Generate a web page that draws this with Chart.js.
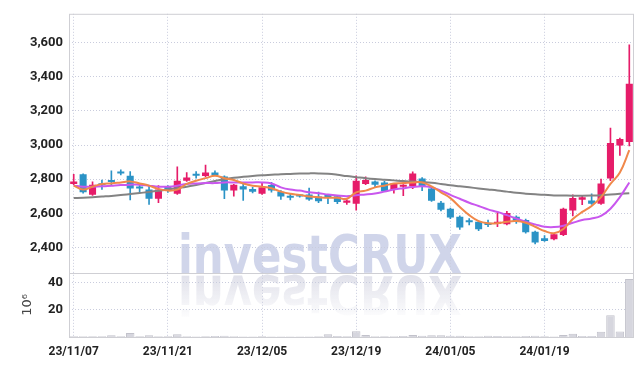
<!DOCTYPE html>
<html>
<head>
<meta charset="utf-8">
<script src="https://cdn.jsdelivr.net/npm/chart.js@4.4.1/dist/chart.umd.min.js"></script>
<style>
html, body { margin: 0; padding: 0; background: #fff; }
#wrap { width: 643px; height: 366px; }
</style>
</head>
<body>
<div id="wrap"><canvas id="stockChart"></canvas></div>
<script>
// trading days, 23/11/07 .. 24/02/01
var dates = ['23/11/07','23/11/08','23/11/09','23/11/10','23/11/13','23/11/14','23/11/15','23/11/16','23/11/17','23/11/20',
             '23/11/21','23/11/22','23/11/23','23/11/24','23/11/27','23/11/28','23/11/29','23/11/30','23/12/01','23/12/04',
             '23/12/05','23/12/06','23/12/07','23/12/08','23/12/11','23/12/12','23/12/13','23/12/14','23/12/15','23/12/18',
             '23/12/19','23/12/20','23/12/21','23/12/22','23/12/26','23/12/27','23/12/28','24/01/02','24/01/03','24/01/04',
             '24/01/05','24/01/08','24/01/09','24/01/10','24/01/11','24/01/12','24/01/15','24/01/16','24/01/17','24/01/18',
             '24/01/19','24/01/22','24/01/23','24/01/24','24/01/25','24/01/26','24/01/29','24/01/30','24/01/31','24/02/01'];

var opens  = [2772,2829,2708,2775,2788,2842,2820,2750,2739,2685, 2758,2714,2791,2829,2818,2839,2816,2733,2758,2743,
              2714,2766,2727,2700,2702,2710,2698,2700,2700,2662, 2656,2771,2787,2781,2737,2756,2758,2804,2746,2662,
              2627,2579,2552,2550,2544,2537,2535,2579,2560,2492, 2454,2448,2473,2616,2679,2675,2656,2804,2997,3018];
var highs  = [2829,2832,2785,2795,2849,2855,2845,2765,2762,2762, 2762,2872,2839,2845,2883,2849,2820,2770,2772,2752,
              2775,2781,2733,2714,2710,2748,2725,2710,2704,2681, 2820,2814,2791,2787,2775,2768,2843,2810,2748,2670,
              2631,2585,2569,2554,2560,2608,2612,2585,2566,2496, 2469,2483,2631,2708,2704,2714,2800,3099,3041,3588];
var lows   = [2768,2718,2705,2740,2768,2825,2678,2725,2652,2662, 2722,2710,2787,2806,2814,2820,2685,2700,2675,2720,
              2710,2724,2681,2679,2694,2675,2662,2656,2656,2652, 2618,2768,2752,2729,2718,2704,2745,2733,2670,2614,
              2569,2506,2531,2498,2521,2521,2531,2540,2483,2421, 2435,2444,2469,2585,2650,2652,2652,2791,2939,2995];
var closes = [2787,2724,2768,2765,2784,2834,2745,2745,2685,2739, 2733,2791,2810,2820,2839,2825,2733,2768,2739,2727,
              2752,2733,2698,2691,2698,2681,2670,2696,2666,2675, 2791,2795,2768,2729,2775,2768,2833,2758,2673,2621,
              2575,2517,2548,2506,2531,2550,2602,2550,2489,2429, 2438,2477,2627,2689,2694,2656,2775,3012,3035,3359];

// moving averages
var ma5  = [2762,2739,2756,2772,2775,2781,2787,2775,2762,2743, 2733,2739,2772,2791,2806,2820,2806,2795,2775,2762,
            2756,2747,2727,2714,2708,2698,2694,2691,2691,2685, 2723,2733,2752,2762,2775,2777,2781,2781,2758,2723,
            2689,2637,2589,2554,2541,2541,2550,2554,2544,2521, 2496,2483,2508,2566,2608,2643,2695,2772,2839,2970];
var ma20 = [2762,2756,2756,2758,2762,2766,2768,2768,2762,2756, 2756,2762,2772,2775,2777,2777,2781,2781,2781,2781,
            2781,2775,2752,2739,2733,2723,2718,2710,2704,2700, 2706,2710,2716,2727,2739,2747,2754,2758,2752,2733,
            2708,2685,2662,2643,2623,2608,2589,2569,2550,2535, 2521,2519,2527,2544,2560,2569,2585,2627,2695,2781];
var ma60 = [2689,2691,2694,2698,2702,2707,2713,2719,2725,2732, 2740,2748,2756,2766,2777,2789,2800,2808,2814,2819,
            2823,2826,2829,2831,2833,2834,2834,2832,2826,2818, 2812,2806,2801,2797,2793,2789,2786,2783,2779,2772,
            2764,2758,2752,2746,2740,2734,2727,2720,2715,2711, 2708,2705,2704,2703,2703,2704,2706,2710,2714,2718];

// volume, millions of shares
var volume = [0.5,0.6,0.5,0.5,1.2,0.5,3.0,0.5,1.2,0.6, 0.5,2.0,0.6,0.4,0.5,0.7,1.0,0.6,0.4,0.4,
              0.5,0.4,0.3,0.3,0.3,0.4,0.6,2.0,0.8,0.5, 4.2,1.5,0.6,0.5,0.6,0.7,1.5,0.9,1.2,1.2,
              1.0,1.0,0.6,0.6,1.0,0.8,0.5,0.6,0.7,1.0, 0.5,0.4,1.5,2.4,0.8,0.7,3.9,16,4.0,42.5];

var priceTicks = [2400,2600,2800,3000,3200,3400,3600];
var volTicks = [20,40];

var upColor = '#e61c69', downColor = '#2b93c6';
var candleColors = closes.map(function (c, i) { return c >= opens[i] ? upColor : downColor; });
var gridColor = '#c9ccdd';
var yFont = { family: 'Roboto', size: 13, weight: 'bold' };
var xFont = { family: 'Roboto', size: 12, weight: 'bold' };

// watermark logo with a faded reflection
var watermark = {
    id: 'watermark',
    beforeDraw: function (chart) {
        var c = chart.ctx;
        var text = 'investCRUX';
        var x0 = 178, base = 273, w = 284;
        c.save();
        c.font = 'bold 53px "DejaVu Sans"';
        var sx = w / c.measureText(text).width;
        c.textBaseline = 'alphabetic';
        c.save();
        c.translate(x0, base);
        c.scale(sx, 1);
        c.fillStyle = 'rgba(200,206,230,0.85)';
        c.fillText(text, 0, 0);
        c.restore();
        c.save();
        c.translate(x0, base + 3);
        c.scale(sx, -1);
        var g = c.createLinearGradient(0, 0, 0, -42);
        g.addColorStop(0, 'rgba(215,216,228,0.75)');
        g.addColorStop(1, 'rgba(215,216,228,0.05)');
        c.fillStyle = g;
        c.fillText(text, 0, 0);
        c.restore();
        c.restore();
    },
    afterDraw: function (chart) {
        var c = chart.ctx, a = chart.chartArea, yv = chart.scales.yv;
        c.save();
        c.strokeStyle = '#cfcfd4';
        c.lineWidth = 1;
        c.strokeRect(a.left + 0.5, a.top + 0.5, a.right - a.left - 1, a.bottom - a.top);
        c.beginPath();
        c.moveTo(a.left, Math.round(yv.top) + 0.5);
        c.lineTo(a.right, Math.round(yv.top) + 0.5);
        c.stroke();
        c.restore();
    }
};

var ctx = document.getElementById('stockChart').getContext('2d');
var stockChart = new Chart(ctx, {
    type: 'bar',
    data: {
        labels: dates,
        datasets: [
            { type: 'line', label: 'MA5', data: ma5, borderColor: '#f0884a', borderWidth: 2,
              pointRadius: 0, tension: 0.4, yAxisID: 'y', order: 0 },
            { type: 'line', label: 'MA20', data: ma20, borderColor: '#c957ee', borderWidth: 2,
              pointRadius: 0, tension: 0.4, yAxisID: 'y', order: 1 },
            { type: 'line', label: 'MA60', data: ma60, borderColor: '#838383', borderWidth: 2,
              pointRadius: 0, tension: 0.4, yAxisID: 'y', order: 2 },
            { label: 'Body', data: opens.map(function (o, i) { return [o, closes[i]]; }),
              backgroundColor: candleColors, barPercentage: 0.75, categoryPercentage: 1,
              minBarLength: 2, grouped: false, yAxisID: 'y', order: 3 },
            { label: 'Wick', data: lows.map(function (l, i) { return [l, highs[i]]; }),
              backgroundColor: candleColors, barThickness: 1, grouped: false, yAxisID: 'y', order: 4 },
            { label: 'Volume', data: volume, backgroundColor: '#d6d6de', borderColor: '#c2c2cb', borderWidth: 1,
              barPercentage: 0.9, categoryPercentage: 1, grouped: false, yAxisID: 'yv', order: 5 }
        ]
    },
    options: {
        responsive: true,
        maintainAspectRatio: false,
        animation: false,
        layout: { padding: { top: 9, right: 9, left: 0, bottom: 0 } },
        plugins: {
            legend: { display: false },
            tooltip: { enabled: false }
        },
        scales: {
            x: {
                offset: true,
                grid: {
                    offset: false,
                    drawTicks: false,
                    color: function (c) { return c.index % 10 === 0 ? gridColor : 'transparent'; }
                },
                border: { display: false, dash: [1, 2] },
                ticks: {
                    autoSkip: false, maxRotation: 0, padding: 8, color: '#222', font: xFont,
                    callback: function (v, i) { return i % 10 === 0 ? dates[i] : ''; }
                },
                afterFit: function (s) { s.height = 29; }
            },
            y: {
                stack: 'panels', stackWeight: 263, weight: 1,
                min: 2250, max: 3770,
                afterBuildTicks: function (s) { s.ticks = priceTicks.map(function (v) { return { value: v }; }); },
                grid: { color: gridColor, drawTicks: false },
                border: { display: false, dash: [1, 2] },
                ticks: {
                    padding: 6, color: '#222', font: yFont,
                    callback: function (v) { return v.toLocaleString('en-US'); }
                },
                afterFit: function (s) { s.width = 69; }
            },
            yv: {
                stack: 'panels', stackWeight: 65, weight: 0,
                min: 0, max: 47,
                afterBuildTicks: function (s) { s.ticks = volTicks.map(function (v) { return { value: v }; }); },
                grid: { color: gridColor, drawTicks: false },
                border: { display: false, dash: [1, 2] },
                ticks: { padding: 6, color: '#222', font: yFont },
                title: { display: true, text: '10⁶', color: '#444', padding: { top: 20, bottom: 0 },
                         font: { family: 'DejaVu Sans', size: 13 } },
                afterFit: function (s) { s.width = 69; }
            }
        }
    },
    plugins: [watermark]
});
</script>
</body>
</html>
